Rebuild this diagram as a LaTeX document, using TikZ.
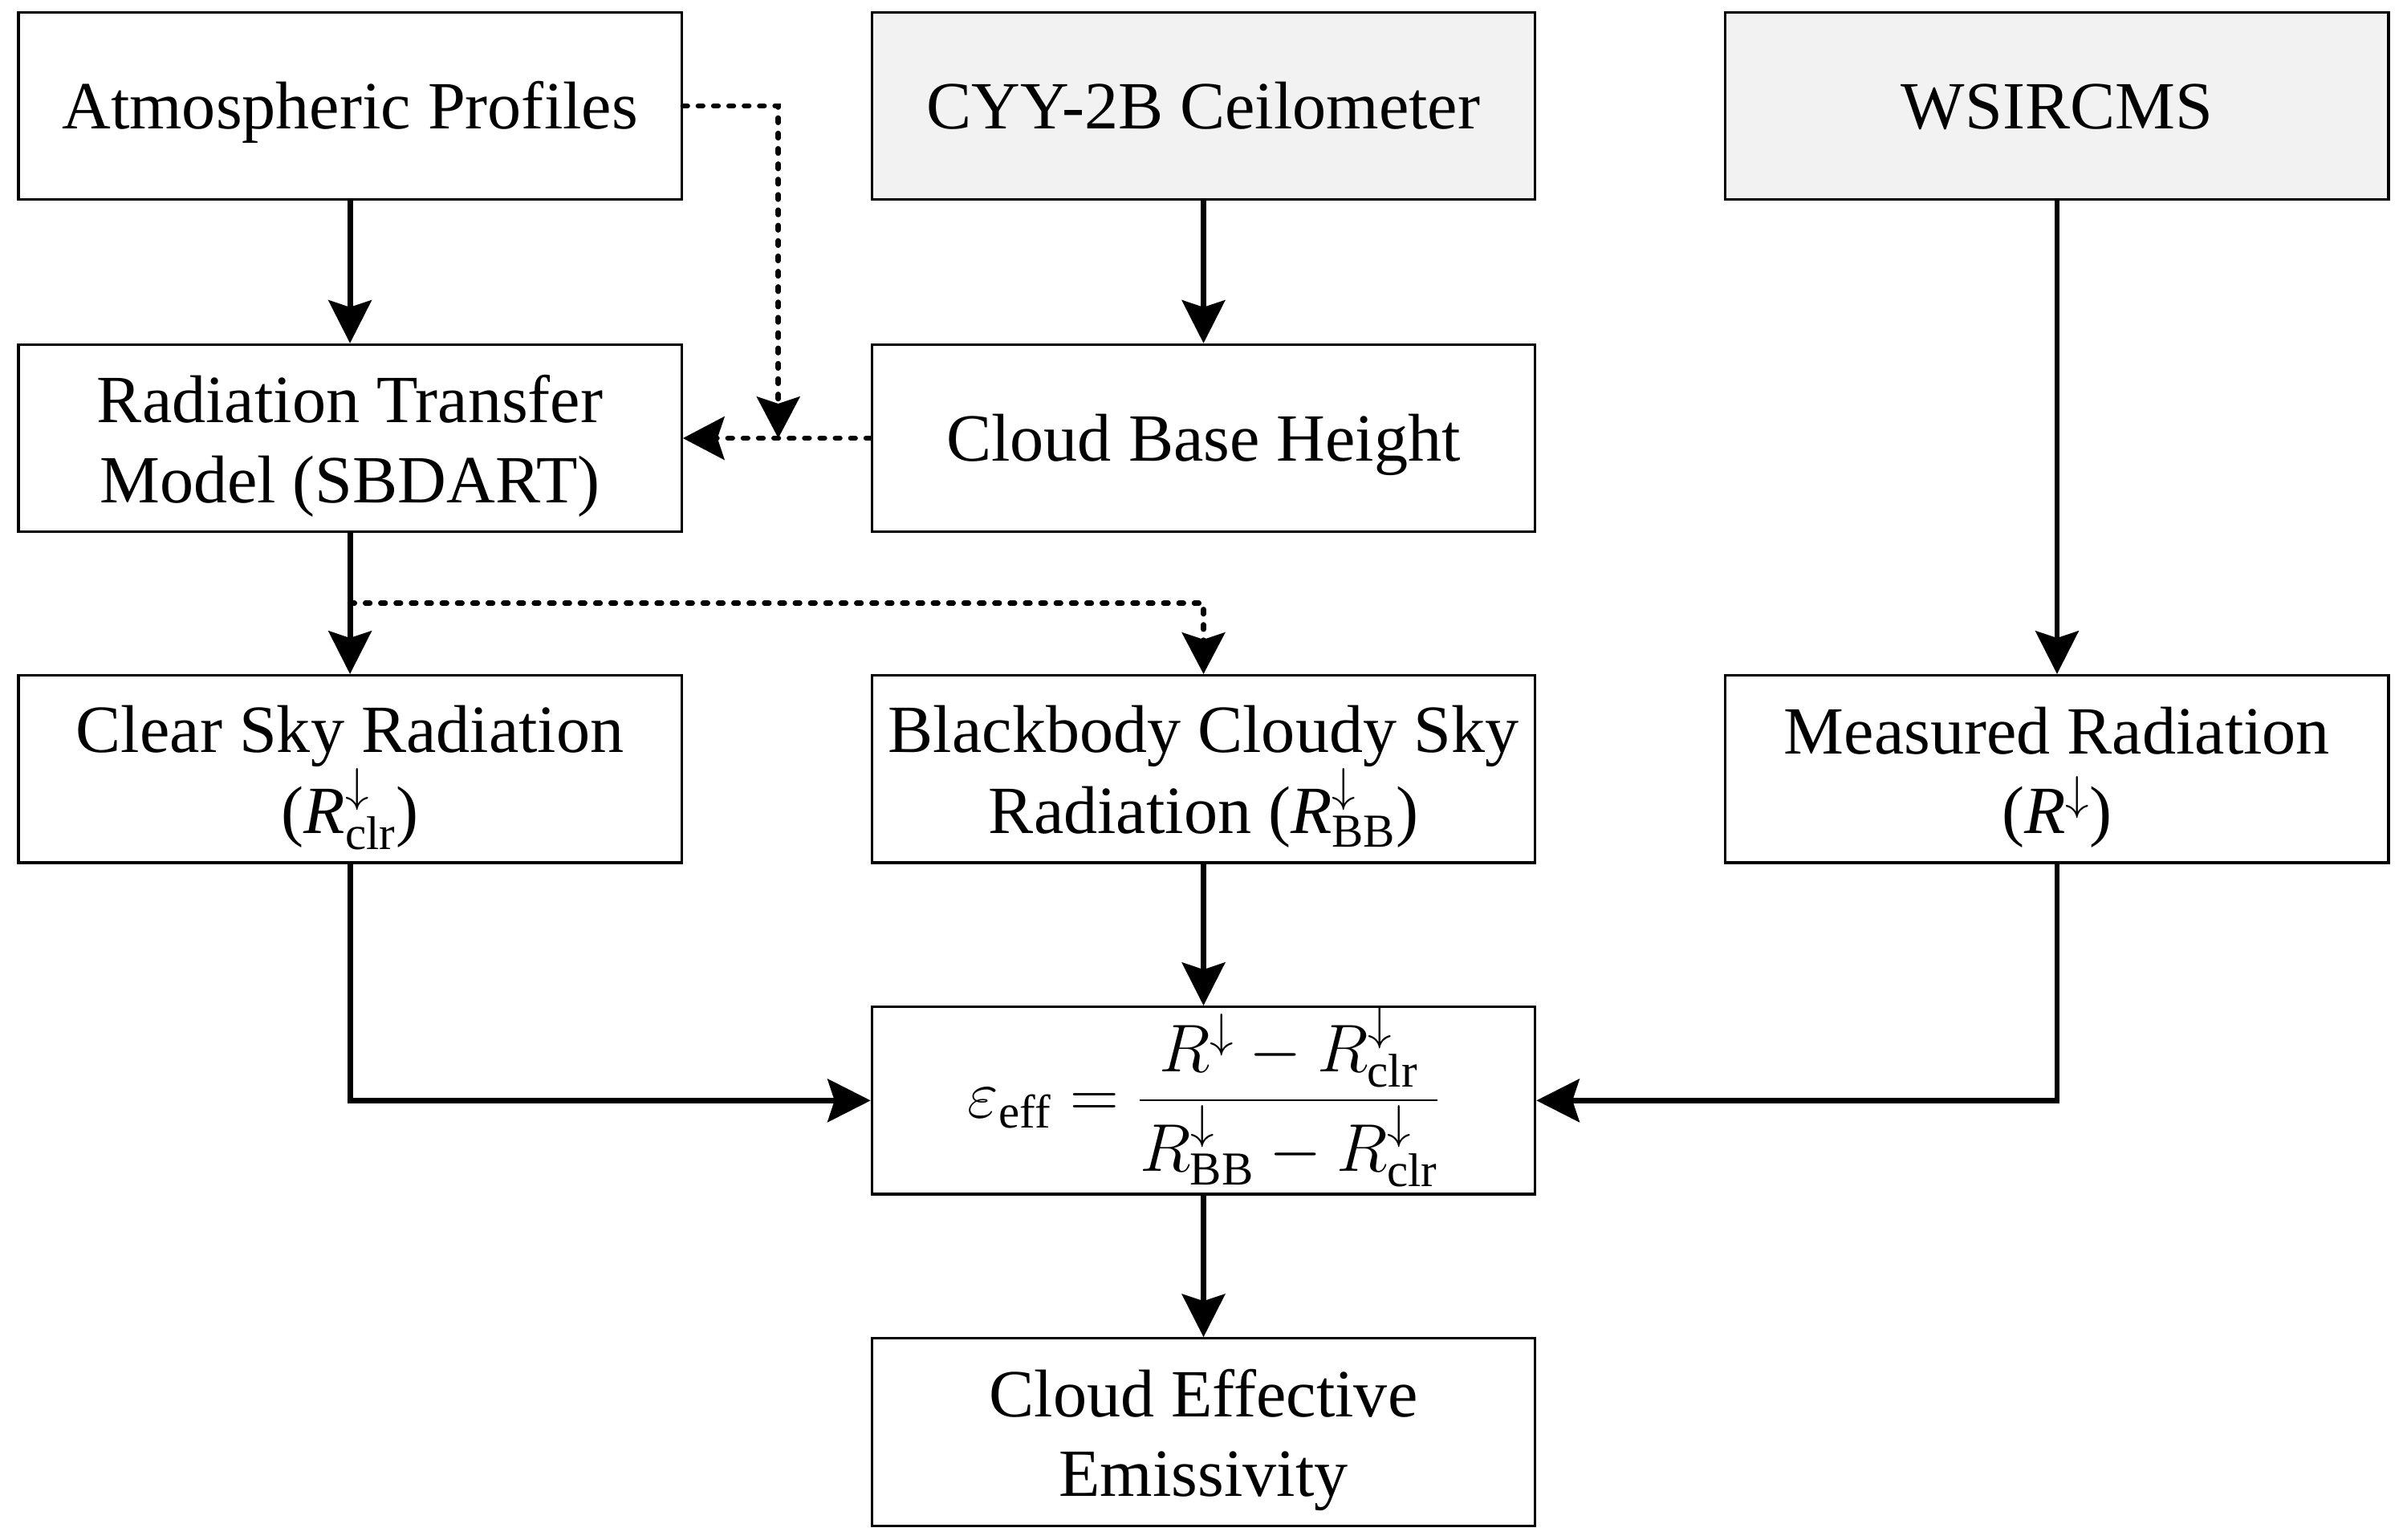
\RequirePackage{fix-cm}
\documentclass[tikz,border=0pt]{standalone}
\usepackage{amsmath}
\usepackage{fontspec}
\setmainfont{Liberation Serif}
\usetikzlibrary{arrows.meta}
\definecolor{boxgray}{HTML}{F2F2F2}
\newcommand{\Rd}[1]{\textit{R}$^{\downarrow}_{\text{#1}}$}
\begin{document}
\begin{tikzpicture}[x=1pt,y=-1pt,
  box/.style={draw, line width=1.7pt, minimum width=432pt, minimum height=122pt,
    inner sep=0pt, align=center, font=\fontsize{44}{52}\selectfont},
  oneline/.style={text height=40pt, text depth=10pt},
  twoline/.style={text height=94pt, text depth=10pt},
  graybox/.style={box, fill=boxgray},
  arr/.style={line width=3.6pt, -{Stealth[length=28pt, width=28pt, inset=4.5pt]}},
  dotarr/.style={line width=3.4pt, line cap=round, dash pattern=on 3pt off 7pt,
    -{Stealth[length=27pt, width=28pt, inset=4.5pt]}}
]
\useasboundingbox (0,0) rectangle (1568,1003);

\node[box,oneline]      (atm)  at (228,69)    {Atmospheric Profiles};
\node[graybox,oneline]  (cyy)  at (784,69)    {CYY-2B Ceilometer};
\node[graybox,oneline]  (wsi)  at (1340,69)   {WSIRCMS};
\node[box,twoline]      (rtm)  at (228,285.5) {Radiation Transfer\\Model (SBDART)};
\node[box,oneline]      (cbh)  at (784,285.5) {Cloud Base Height};
\node[box,twoline]      (clr)  at (228,501)   {Clear Sky Radiation\\(\Rd{clr})};
\node[box,twoline]      (bb)   at (784,501)   {Blackbody Cloudy Sky\\Radiation (\Rd{BB})};
\node[box,twoline]      (meas) at (1340,501)  {Measured Radiation\\(\textit{R}$^{\downarrow}$)};
\node[box,text height=30pt,text depth=8pt] (eff) at (784,717)
  {$\displaystyle \varepsilon_{\mathrm{eff}}=\frac{R^{\downarrow}-R^{\downarrow}_{\mathrm{clr}}}{R^{\downarrow}_{\mathrm{BB}}-R^{\downarrow}_{\mathrm{clr}}}$};
\node[box,twoline]      (ce)   at (784,933)   {Cloud Effective\\Emissivity};

\coordinate (j1) at (507,285.5);
\coordinate (j2) at (228,393);

% solid arrows
\draw[arr] (atm.south) -- (rtm.north);
\draw[arr] (cyy.south) -- (cbh.north);
\draw[arr] (wsi.south) -- (meas.north);
\draw[arr] (rtm.south) -- (clr.north);
\draw[arr] (bb.south) -- (eff.north);
\draw[arr] (clr.south) |- (eff.west);
\draw[arr] (meas.south) |- (eff.east);
\draw[arr] (eff.south) -- (ce.north);

% dotted arrows
\draw[dotarr] (atm.east) -| (j1);
\draw[dotarr] (cbh.west) -- (rtm.east);
\draw[dotarr] (j2) -| (bb.north);
\end{tikzpicture}
\end{document}
